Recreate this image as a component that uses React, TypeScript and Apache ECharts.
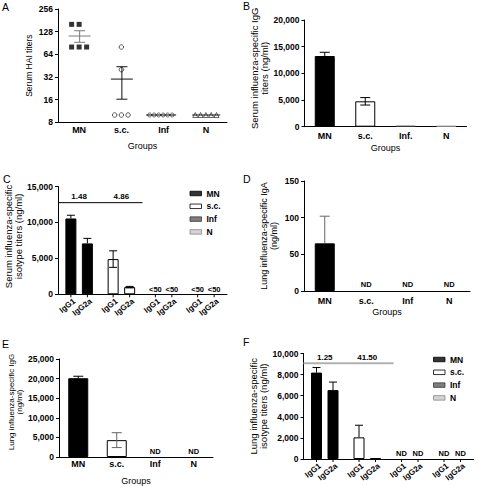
import React, { useEffect, useRef } from 'react';
import * as echarts from 'echarts';

const FONT = '"Liberation Sans", Arial, Helvetica, sans-serif';

// ---------- data ----------
const groups = ['MN', 's.c.', 'Inf', 'N'];
const groupsB = ['MN', 's.c.', 'Inf.', 'N'];
const isotypes = ['IgG1', 'IgG2a'];

// A: serum HAI titers (individual mice)
const haiMN = [160, 160, 80, 80, 80];
const haiSC = [80, 40, 10, 10, 10];
const haiInf = [10, 10, 10, 10, 10, 10];
const haiN = [10, 10, 10, 10, 10];

// B: serum IgG (ng/ml)
const serumIgG = [13250, 4760, 150, 150];
const serumIgGErr = [700, 700, 0, 0];

// C: serum isotypes (null = below detection)
const serumIgG1 = [10550, 4900, null, null];
const serumIgG1Err = [450, 1150, 0, 0];
const serumIgG2a = [7080, 1000, null, null];
const serumIgG2aErr = [700, 100, 0, 0];
const serumRatios = ['1.48', '4.86'];
const serumRatioLevel = 12750;
const serumBelowText = '<50';

// D: lung IgA
const lungIgA = [65, null, null, null];
const lungIgAErr = [37, 0, 0, 0];

// E: lung IgG
const lungIgG = [20100, 4300, null, null];
const lungIgGErr = [500, 1900, 0, 0];

// F: lung isotypes
const lungIgG1 = [8190, 2050, null, null];
const lungIgG1Err = [480, 1150, 0, 0];
const lungIgG2a = [6530, 80, null, null];
const lungIgG2aErr = [760, 0, 0, 0];
const lungRatios = ['1.25', '41.50'];
const lungRatioLevel = 9070;
const notDetectedText = 'ND';

// ---------- styles ----------
const fills = ['#000000', '#ffffff', '#5e5e5e', '#c8c8c8'];
const borders = ['#000000', '#000000', '#3a3a3a', '#8a8a8a'];

const fmt = (v: number) => String(Math.round(v)).replace(/\B(?=(\d{3})+(?!\d))/g, ',');
const mean = (a: number[]) => a.reduce((s, x) => s + x, 0) / a.length;
const sem = (a: number[]) => {
  const m = mean(a);
  const v = a.reduce((s, x) => s + (x - m) * (x - m), 0) / (a.length - 1);
  return Math.sqrt(v / a.length);
};

function catAxis(gridIndex: number, data: string[], o: any = {}) {
  return {
    type: 'category', gridIndex, data, boundaryGap: true,
    axisLine: { show: true, onZero: false, lineStyle: { color: '#000', width: 1 } },
    axisTick: { show: false },
    axisLabel: {
      show: o.labels !== false, margin: o.margin ?? 4, interval: 0,
      fontFamily: FONT, fontSize: 9, fontWeight: 'bold', color: '#000',
    },
    splitLine: { show: false },
    name: o.name, nameLocation: 'middle', nameGap: o.nameGap ?? 18,
    nameTextStyle: { fontFamily: FONT, fontSize: 9, color: '#000' },
  };
}

function valAxis(gridIndex: number, max: number, interval: number, name: string, nameGap: number, shift: number, nameSize: number) {
  return {
    type: 'value', gridIndex, min: 0, max, interval,
    axisLine: { show: true, lineStyle: { color: '#000', width: 1 } },
    axisTick: { show: true, length: 3, lineStyle: { color: '#000', width: 1 } },
    axisLabel: { margin: 5, fontFamily: FONT, fontSize: 8.5, fontWeight: 'bold', color: '#000', formatter: fmt },
    splitLine: { show: false },
    name, nameLocation: 'middle', nameGap,
    nameTextStyle: {
      fontFamily: FONT, fontSize: nameSize, color: '#000',
      lineHeight: nameSize + 0.5, padding: [0, 0, 0, shift],
    },
  };
}

function barData(vals: (number | null)[], blankText: string, blankDist: number) {
  return vals.map((v, i) =>
    v == null
      ? {
          value: 0,
          itemStyle: { color: 'transparent', borderWidth: 0 },
          label: {
            show: true, position: 'top', distance: blankDist, formatter: blankText,
            fontFamily: FONT, fontSize: 7.5, fontWeight: 'bold', color: '#000',
          },
        }
      : { value: v, itemStyle: { color: fills[i], borderColor: borders[i], borderWidth: 1 } }
  );
}

function errSeries(ax: number, vals: (number | null)[], errs: number[], both: number[], offset: number, cap: number, colors: string[]) {
  return {
    type: 'custom', xAxisIndex: ax, yAxisIndex: ax, z: 5, silent: true, clip: false,
    data: vals.map((v, i) => [i, v ?? 0, errs[i], both[i]]),
    encode: { x: 0, y: 1 },
    renderItem: (_p: any, api: any) => {
      const i = api.value(0), v = api.value(1), e = api.value(2), b = api.value(3);
      if (!e) return null;
      const top = api.coord([i, v + e]);
      const bot = api.coord([i, b ? v - e : v]);
      const x = top[0] + offset;
      const st = { stroke: colors[i], lineWidth: 1 };
      const ch: any[] = [
        { type: 'line', shape: { x1: x, y1: top[1], x2: x, y2: bot[1] }, style: st },
        { type: 'line', shape: { x1: x - cap, y1: top[1], x2: x + cap, y2: top[1] }, style: st },
      ];
      if (b) ch.push({ type: 'line', shape: { x1: x - cap, y1: bot[1], x2: x + cap, y2: bot[1] }, style: st });
      return { type: 'group', children: ch };
    },
  };
}

function isoLabelSeries(ax: number, offset: number) {
  const data: number[][] = [];
  groups.forEach((_g, c) => isotypes.forEach((_t, s) => data.push([c, 0, s])));
  return {
    type: 'custom', xAxisIndex: ax, yAxisIndex: ax, z: 6, silent: true, clip: false,
    data, encode: { x: 0, y: 1 },
    renderItem: (_p: any, api: any) => {
      const c = api.value(0), s = api.value(2);
      const p = api.coord([c, 0]);
      const x = p[0] + (s ? offset : -offset);
      const y = p[1];
      return {
        type: 'group',
        children: [
          { type: 'line', shape: { x1: x, y1: y, x2: x, y2: y + 3 }, style: { stroke: '#000', lineWidth: 1 } },
          {
            type: 'text', x: x + 3.5, y: y + 6, rotation: (38 * Math.PI) / 180,
            style: {
              text: isotypes[s], align: 'right', verticalAlign: 'middle',
              fontFamily: FONT, fontSize: 8, fontWeight: 'bold', fill: '#000',
            },
          },
        ],
      };
    },
  };
}

function ratioSeries(ax: number, level: number, labels: string[], span: number, color: string, width: number) {
  return {
    type: 'custom', xAxisIndex: ax, yAxisIndex: ax, z: 4, silent: true, clip: false,
    data: labels.map((_t, i) => [i, level]),
    encode: { x: 0, y: 1 },
    renderItem: (_p: any, api: any) => {
      const i = api.value(0);
      const p = api.coord([i, api.value(1)]);
      const band = api.size([1, 0])[0];
      const ch: any[] = [
        {
          type: 'text', x: p[0], y: p[1] - 2,
          style: {
            text: labels[i], align: 'center', verticalAlign: 'bottom',
            fontFamily: FONT, fontSize: 8, fontWeight: 'bold', fill: '#000',
          },
        },
      ];
      if (i === 0) {
        const x0 = p[0] - band / 2;
        ch.push({ type: 'line', shape: { x1: x0, y1: p[1], x2: x0 + span * band, y2: p[1] }, style: { stroke: color, lineWidth: width } });
      }
      return { type: 'group', children: ch };
    },
  };
}

function buildOption(): any {
  const haiGroups = [haiMN, haiSC, haiInf, haiN];
  const jitter = [
    [-7.5, 0, -7.5, 0, 7.5],
    [0, 0, -6.7, 0, 6.7],
    [-14, -9.5, -5, -0.5, 4, 8.5],
    [-10.6, -5.3, 0, 5.3, 10.6],
  ];
  const markers = [
    { symbol: 'rect', size: 5, color: '#000', border: '#000', bw: 0 },
    { symbol: 'circle', size: 4.5, color: '#fff', border: '#000', bw: 0.8 },
    { symbol: 'circle', size: 4, color: '#fff', border: '#111', bw: 0.8 },
    { symbol: 'triangle', size: 5, color: '#fff', border: '#111', bw: 0.8 },
  ];
  const meanHalf = [11, 11, 15, 14];
  const meanShift = [0.5, 0.5, -2.5, 0.3];
  const meanColor = ['#7a7a7a', '#111', '#111', '#111'];

  const scatterA = haiGroups.map((vals, g) => ({
    type: 'scatter', name: 'HAI ' + groups[g], xAxisIndex: 0, yAxisIndex: 0, z: 3,
    symbol: markers[g].symbol, symbolSize: markers[g].size,
    itemStyle: { color: markers[g].color, borderColor: markers[g].border, borderWidth: markers[g].bw },
    data: vals.map((v, k) => ({ value: [g, v], symbolOffset: [jitter[g][k], 0] })),
  }));

  const meanA = {
    type: 'custom', xAxisIndex: 0, yAxisIndex: 0, z: 6, silent: true, clip: false,
    data: haiGroups.map((a, i) => [i, mean(a), sem(a)]),
    encode: { x: 0, y: 1 },
    renderItem: (_p: any, api: any) => {
      const i = api.value(0), m = api.value(1), e = api.value(2);
      const p = api.coord([i, m]);
      const cx = p[0] + meanShift[i];
      const hw = meanHalf[i];
      const st = { stroke: meanColor[i], lineWidth: 1 };
      const ch: any[] = [{ type: 'line', shape: { x1: cx - hw, y1: p[1], x2: cx + hw, y2: p[1] }, style: st }];
      if (e > 0) {
        const t = api.coord([i, m + e])[1];
        const b = api.coord([i, m - e])[1];
        ch.push({ type: 'line', shape: { x1: cx, y1: t, x2: cx, y2: b }, style: st });
        ch.push({ type: 'line', shape: { x1: cx - 5.5, y1: t, x2: cx + 5.5, y2: t }, style: st });
        ch.push({ type: 'line', shape: { x1: cx - 5.5, y1: b, x2: cx + 5.5, y2: b }, style: st });
      }
      return { type: 'group', children: ch };
    },
  };

  const pairOff = (11 + 11 * 0.5) / 2;
  const dark = ['#000', '#000', '#000', '#000'];

  const legendData = groups.map((g, i) => ({
    name: g, itemStyle: { color: fills[i], borderColor: borders[i], borderWidth: 1 },
  }));
  const legendBase = {
    orient: 'vertical', itemWidth: 11.5, itemHeight: 4.5, itemGap: 3.8, padding: 0,
    selectedMode: false, icon: 'rect', data: legendData,
    textStyle: { fontFamily: FONT, fontSize: 8.5, fontWeight: 'bold', color: '#000' },
  };

  const dummyLegend = groups.map((g, i) => ({
    type: 'scatter', name: g, xAxisIndex: 2, yAxisIndex: 2, data: [],
    itemStyle: { color: fills[i], borderColor: borders[i], borderWidth: 1 },
  }));

  const letters = [
    ['A', 2, 1], ['B', 243, 0], ['C', 3, 173], ['D', 243, 173], ['E', 2, 338], ['F', 243, 336],
  ].map(([t, x, y]) => ({
    type: 'text', x, y,
    style: { text: t, fontFamily: FONT, fontSize: 10.5, fill: '#000', align: 'left', verticalAlign: 'top' },
  }));

  return {
    animation: false,
    backgroundColor: '#fff',
    textStyle: { fontFamily: FONT },
    grid: [
      { left: 58, top: 9, width: 169, height: 113.3 },
      { left: 304.5, top: 20, width: 162, height: 106.7 },
      { left: 58, top: 186.5, width: 169, height: 107.8 },
      { left: 304, top: 181, width: 166, height: 110 },
      { left: 59, top: 359, width: 154, height: 98.7 },
      { left: 303.5, top: 353.5, width: 170, height: 105.5 },
    ],
    xAxis: [
      catAxis(0, groups, { name: 'Groups', nameGap: 19, margin: 3 }),
      catAxis(1, groupsB, { name: 'Groups', nameGap: 16.5, margin: 4.5 }),
      catAxis(2, groups, { labels: false }),
      catAxis(3, groups, { name: 'Groups', nameGap: 16, margin: 5 }),
      catAxis(4, groups, { name: 'Groups', nameGap: 19, margin: 2.5 }),
      catAxis(5, groups, { labels: false }),
    ],
    yAxis: [
      {
        type: 'log', gridIndex: 0, logBase: 2, min: 8, max: 256, splitNumber: 5,
        axisLine: { show: true, lineStyle: { color: '#000', width: 1 } },
        axisTick: { show: true, length: 3, lineStyle: { color: '#000', width: 1 } },
        axisLabel: {
          margin: 5, fontFamily: FONT, fontSize: 8.5, fontWeight: 'bold', color: '#000',
          formatter: (v: number) => String(Math.round(v)),
        },
        splitLine: { show: false },
        name: 'Serum HAI titers', nameLocation: 'middle', nameGap: 25,
        nameTextStyle: { fontFamily: FONT, fontSize: 8.5, color: '#000' },
      },
      valAxis(1, 20000, 5000, 'Serum influenza-specific IgG\ntiters (ng/ml)', 35, 10, 9.5),
      valAxis(2, 15000, 5000, 'Serum influenza-specific\nisotype titers (ng/ml)', 28, 8, 9.5),
      valAxis(3, 150, 50, 'Lung influenza-specific IgA\n(ng/ml)', 25.5, 0, 9),
      valAxis(4, 25000, 5000, 'Lung influenza-specific IgG\n(ng/ml)', 32, 12, 8),
      valAxis(5, 10000, 2000, 'Lung influenza-specific\nisotype titers (ng/ml)', 34, 0, 9.5),
    ],
    legend: [
      { ...legendBase, left: 189.5, top: 189 },
      { ...legendBase, left: 433, top: 355 },
    ],
    graphic: letters,
    series: [
      // A
      ...scatterA,
      meanA,
      // B
      { type: 'bar', name: 'Serum IgG', xAxisIndex: 1, yAxisIndex: 1, barWidth: 20, data: barData(serumIgG, notDetectedText, 2) },
      errSeries(1, serumIgG, serumIgGErr, [0, 1, 0, 0], 0, 5, dark),
      // C
      { type: 'bar', name: 'Serum IgG1', xAxisIndex: 2, yAxisIndex: 2, barWidth: 11, barGap: '50%', data: barData(serumIgG1, serumBelowText, 1) },
      { type: 'bar', name: 'Serum IgG2a', xAxisIndex: 2, yAxisIndex: 2, barWidth: 11, barGap: '50%', data: barData(serumIgG2a, serumBelowText, 1) },
      errSeries(2, serumIgG1, serumIgG1Err, [0, 1, 0, 0], -pairOff, 4, dark),
      errSeries(2, serumIgG2a, serumIgG2aErr, [0, 1, 0, 0], pairOff, 4, dark),
      isoLabelSeries(2, pairOff),
      ratioSeries(2, serumRatioLevel, serumRatios, 2, '#000', 1),
      ...dummyLegend,
      // D
      { type: 'bar', name: 'Lung IgA', xAxisIndex: 3, yAxisIndex: 3, barWidth: 20, data: barData(lungIgA, notDetectedText, 3) },
      errSeries(3, lungIgA, lungIgAErr, [0, 0, 0, 0], 0, 5, ['#666', '#666', '#666', '#666']),
      // E
      { type: 'bar', name: 'Lung IgG', xAxisIndex: 4, yAxisIndex: 4, barWidth: 20, data: barData(lungIgG, notDetectedText, 2) },
      errSeries(4, lungIgG, lungIgGErr, [0, 1, 0, 0], 0, 5, ['#000', '#666', '#000', '#000']),
      // F
      { type: 'bar', name: 'Lung IgG1', xAxisIndex: 5, yAxisIndex: 5, barWidth: 11, barGap: '50%', data: barData(lungIgG1, notDetectedText, 2) },
      { type: 'bar', name: 'Lung IgG2a', xAxisIndex: 5, yAxisIndex: 5, barWidth: 11, barGap: '50%', data: barData(lungIgG2a, notDetectedText, 2) },
      errSeries(5, lungIgG1, lungIgG1Err, [0, 0, 0, 0], -pairOff, 4, dark),
      errSeries(5, lungIgG2a, lungIgG2aErr, [0, 0, 0, 0], pairOff, 4, dark),
      isoLabelSeries(5, pairOff),
      ratioSeries(5, lungRatioLevel, lungRatios, 2.12, '#b0b0b0', 2),
    ],
  };
}

export default function App() {
  const ref = useRef<HTMLDivElement>(null);
  useEffect(() => {
    const chart = echarts.init(ref.current!, null, { renderer: 'svg' });
    chart.setOption(buildOption());
    return () => chart.dispose();
  }, []);
  return (
    <div
      ref={ref}
      style={{ position: 'fixed', left: 0, top: 0, width: 478, height: 486, background: '#fff' }}
    />
  );
}
